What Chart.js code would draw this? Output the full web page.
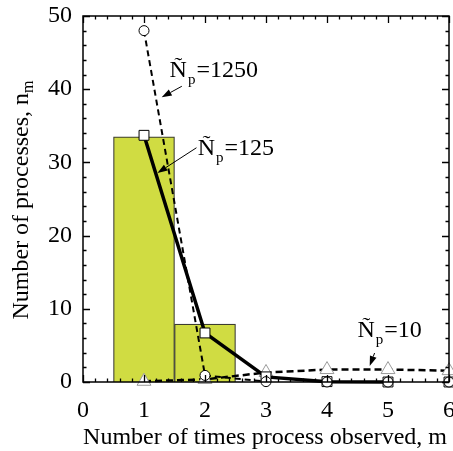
<!DOCTYPE html>
<html lang="en">
<head>
    <meta charset="UTF-8">
    <title>Processes observed</title>
    <script src="https://cdn.jsdelivr.net/npm/chart.js"></script>
    <style>
        body {
            margin: 0;
            padding: 0;
            background: #fff;
        }
        canvas {
            display: block;
        }
    </style>
</head>
<body>
    <canvas id="histChart" width="453" height="451"></canvas>
    <script>
        // observed counts m and the histogram
        const mValues = [1, 2, 3, 4, 5, 6];
        const barM = [1, 2];
        const barCounts = [33.5, 7.9];

        // model curves for three values of N_p
        const np10 = [0.1, 0.35, 1.3, 1.7, 1.7, 1.55];
        const np125 = [33.7, 6.7, 0.7, 0.05, 0, 0];
        const np1250 = [48, 0.9, 0.05, 0, 0, 0];

        const xTicks = [0, 1, 2, 3, 4, 5, 6];
        const yTicks = [0, 10, 20, 30, 40, 50];

        // labels with arrows, in data units: text start/baseline, arrow tail -> head
        const notes = [
            { num: '=1250', x: 1.42, y: 41.7, from: [1.62, 40.4], to: [1.29, 38.9] },
            { num: '=125', x: 1.88, y: 31.0, from: [1.86, 32.0], to: [1.22, 28.55] },
            { num: '=10', x: 4.5, y: 6.15, from: [4.78, 3.96], to: [4.70, 2.19] }
        ];

        const serif = 'Liberation Serif';
        const fontSize = 24;
        const pts = arr => arr.map((v, i) => ({ x: mValues[i], y: v }));

        // keep the plot box fixed regardless of tick label overhang
        const noOverhang = s => {
            s.paddingLeft = 0; s.paddingRight = 0;
            s.paddingTop = 0; s.paddingBottom = 0;
        };

        // inward ticks on all four sides, plus the frame
        const frameTicks = {
            id: 'frameTicks',
            afterDatasetsDraw(chart) {
                const { ctx, chartArea: a, scales: { x, y } } = chart;
                ctx.save();
                ctx.strokeStyle = '#000';
                ctx.lineWidth = 1.3;
                ctx.beginPath();
                for (let v = 0; v <= 6.001; v += 0.2) {
                    const px = Math.round(x.getPixelForValue(v)) + 0.5;
                    const len = Math.abs(v - Math.round(v)) < 0.01 ? 7 : 3.5;
                    ctx.moveTo(px, a.bottom); ctx.lineTo(px, a.bottom - len);
                    ctx.moveTo(px, a.top); ctx.lineTo(px, a.top + len);
                }
                for (let v = 0; v <= 50; v += 2) {
                    const py = Math.round(y.getPixelForValue(v)) + 0.5;
                    const len = v % 10 === 0 ? 7 : 3.5;
                    ctx.moveTo(a.left, py); ctx.lineTo(a.left + len, py);
                    ctx.moveTo(a.right, py); ctx.lineTo(a.right - len, py);
                }
                ctx.stroke();
                ctx.lineWidth = 1.5;
                ctx.strokeRect(a.left, a.top, a.right - a.left, a.bottom - a.top);
                ctx.restore();
            }
        };

        // axis titles and the N_p labels (subscripts drawn by hand)
        const textLayer = {
            id: 'textLayer',
            afterDraw(chart) {
                const { ctx, chartArea: a, scales: { x, y } } = chart;
                const big = `${fontSize}px "${serif}"`;
                ctx.save();
                ctx.fillStyle = '#000';
                ctx.strokeStyle = '#000';
                ctx.textBaseline = 'alphabetic';

                // x title
                ctx.font = big;
                ctx.textAlign = 'center';
                ctx.fillText('Number of times process observed, m', (a.left + a.right) / 2 - 1, 444);

                // y title, rotated, with subscript m
                ctx.save();
                ctx.translate(28, 200);
                ctx.rotate(-Math.PI / 2);
                const main = 'Number of processes, n';
                ctx.font = big;
                const wMain = ctx.measureText(main).width;
                ctx.font = `16px "${serif}"`;
                const wSub = ctx.measureText('m').width;
                const start = -(wMain + wSub) / 2;
                ctx.textAlign = 'left';
                ctx.font = big;
                ctx.fillText(main, start, 0);
                ctx.font = `16px "${serif}"`;
                ctx.fillText('m', start + wMain, 5);
                ctx.restore();

                // labels with arrows
                ctx.textAlign = 'left';
                notes.forEach(n => {
                    let px = x.getPixelForValue(n.x);
                    const py = y.getPixelForValue(n.y);
                    ctx.font = big;
                    ctx.fillText('Ñ', px, py);
                    px += ctx.measureText('Ñ').width + 1;
                    ctx.font = `15px "${serif}"`;
                    ctx.fillText('p', px, py + 7);
                    px += ctx.measureText('p').width + 1;
                    ctx.font = big;
                    ctx.fillText(n.num, px, py);

                    const x0 = x.getPixelForValue(n.from[0]);
                    const y0 = y.getPixelForValue(n.from[1]);
                    const x1 = x.getPixelForValue(n.to[0]);
                    const y1 = y.getPixelForValue(n.to[1]);
                    const ang = Math.atan2(y1 - y0, x1 - x0);
                    const head = 10, half = 3.5;
                    const bx = x1 - head * Math.cos(ang);
                    const by = y1 - head * Math.sin(ang);
                    ctx.lineWidth = 1;
                    ctx.beginPath();
                    ctx.moveTo(x0, y0);
                    ctx.lineTo(bx, by);
                    ctx.stroke();
                    ctx.beginPath();
                    ctx.moveTo(x1, y1);
                    ctx.lineTo(bx - half * Math.sin(ang), by + half * Math.cos(ang));
                    ctx.lineTo(bx + half * Math.sin(ang), by - half * Math.cos(ang));
                    ctx.closePath();
                    ctx.fill();
                });
                ctx.restore();
            }
        };

        const ctx = document.getElementById('histChart').getContext('2d');
        new Chart(ctx, {
            type: 'bar',
            data: {
                datasets: [
                    {
                        type: 'bar',
                        data: barM.map((m, i) => ({ x: m, y: barCounts[i] })),
                        backgroundColor: '#d0dc42',
                        borderColor: '#3c3c30',
                        borderWidth: 1.2,
                        barPercentage: 1,
                        categoryPercentage: 1,
                        grouped: false,
                        order: 10
                    },
                    {
                        type: 'line',
                        data: pts(np10),
                        borderColor: '#000',
                        borderWidth: 2.5,
                        borderDash: [7, 4],
                        pointStyle: 'triangle',
                        pointRadius: 8,
                        pointBackgroundColor: '#fff',
                        pointBorderColor: '#9a9a9a',
                        pointBorderWidth: 1,
                        clip: false,
                        order: 3
                    },
                    {
                        type: 'line',
                        data: pts(np125),
                        borderColor: '#000',
                        borderWidth: 3.5,
                        segment: {
                            borderColor: c => c.p0DataIndex >= 4 ? 'rgba(0,0,0,0)' : '#000'
                        },
                        pointStyle: 'rect',
                        pointRadius: 7,
                        pointBackgroundColor: '#fff',
                        pointBorderColor: '#000',
                        pointBorderWidth: 1,
                        clip: false,
                        order: 2
                    },
                    {
                        type: 'line',
                        data: pts(np1250),
                        borderColor: '#000',
                        borderWidth: 2,
                        borderDash: [6, 4],
                        segment: {
                            borderColor: c => c.p0DataIndex >= 2 ? 'rgba(0,0,0,0)' : '#000'
                        },
                        pointStyle: 'circle',
                        pointRadius: 5,
                        pointBackgroundColor: '#fff',
                        pointBorderColor: '#000',
                        pointBorderWidth: 1,
                        clip: false,
                        order: 1
                    }
                ]
            },
            options: {
                responsive: false,
                animation: false,
                layout: {
                    autoPadding: false,
                    padding: { top: 16, right: 4, left: 0, bottom: 0 }
                },
                plugins: {
                    legend: { display: false },
                    tooltip: { enabled: false }
                },
                scales: {
                    x: {
                        type: 'linear',
                        min: 0,
                        max: 6,
                        offset: false,
                        grid: { display: false, drawTicks: false },
                        border: { display: false },
                        afterBuildTicks: s => { s.ticks = xTicks.map(v => ({ value: v })); },
                        afterFit: s => { s.height = 69; noOverhang(s); },
                        ticks: {
                            color: '#000',
                            padding: 14,
                            maxRotation: 0,
                            font: { family: serif, size: fontSize }
                        }
                    },
                    y: {
                        type: 'linear',
                        min: 0,
                        max: 50,
                        grid: { display: false, drawTicks: false },
                        border: { display: false },
                        afterBuildTicks: s => { s.ticks = yTicks.map(v => ({ value: v })); },
                        afterFit: s => { s.width = 83; noOverhang(s); },
                        ticks: {
                            color: '#000',
                            padding: 11,
                            font: { family: serif, size: fontSize }
                        }
                    }
                }
            },
            plugins: [frameTicks, textLayer]
        });
    </script>
</body>
</html>
